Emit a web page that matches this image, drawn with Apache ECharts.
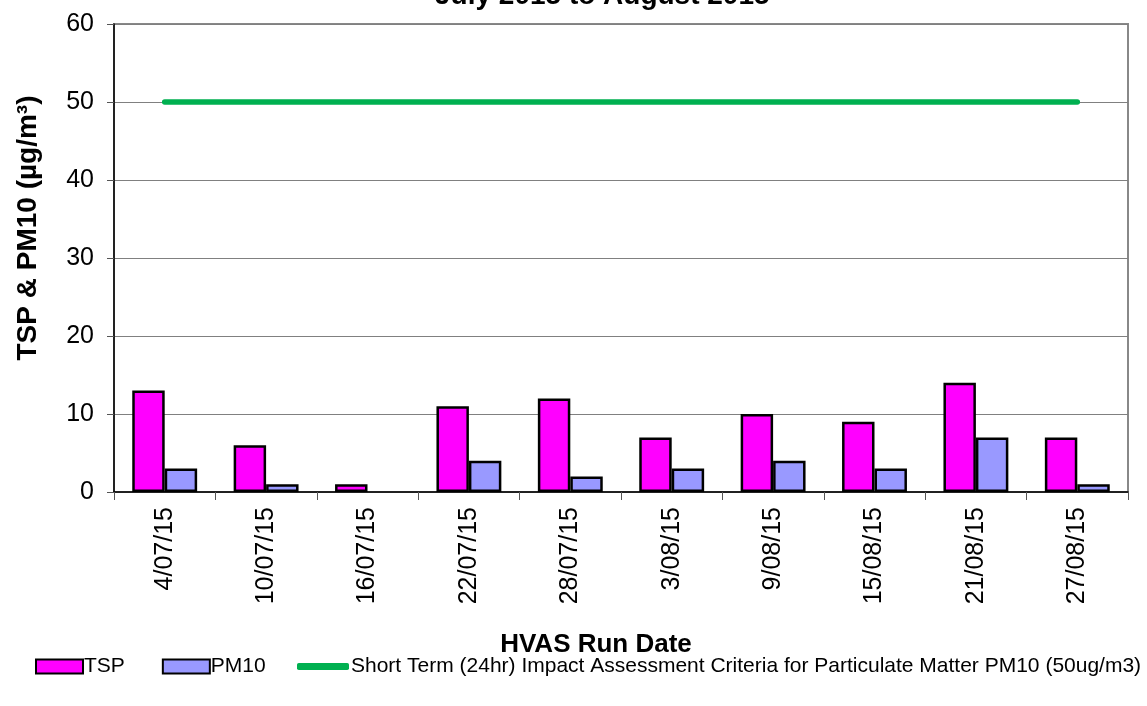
<!DOCTYPE html>
<html>
<head>
<meta charset="utf-8">
<script src="https://cdn.jsdelivr.net/npm/echarts@6/dist/echarts.min.js"></script>
<style>html,body{margin:0;padding:0;background:#fff;}#c{width:1147px;height:706px;}</style>
</head>
<body>
<div id="c"></div>
<script>
const categories = ['4/07/15','10/07/15','16/07/15','22/07/15','28/07/15','3/08/15','9/08/15','15/08/15','21/08/15','27/08/15'];
const tsp = [13, 6, 1, 11, 12, 7, 10, 9, 14, 7];
const pm10 = [3, 1, 0, 4, 2, 3, 4, 3, 7, 1];
const criteria = [50, 50, 50, 50, 50, 50, 50, 50, 50, 50];
const yTicks = [0, 10, 20, 30, 40, 50, 60];
const criteriaName = 'Short Term (24hr) Impact Assessment Criteria for Particulate Matter PM10 (50ug/m3)';

const chart = echarts.init(document.getElementById('c'), null, {renderer: 'canvas'});
const font = 'Liberation Sans, Arial, sans-serif';
const barData = arr => arr.map(v => v === 0 ? {value: v, itemStyle: {borderWidth: 0}} : v);
chart.setOption({
  animation: false,
  title: {
    text: 'July 2015 to August 2015',
    left: 430,
    top: -23,
    textStyle: {fontFamily: font, fontSize: 28, fontWeight: 'bold', color: '#000'}
  },
  grid: {
    left: 114, right: 19, top: 24, bottom: 214,
    show: true, borderColor: '#888', borderWidth: 2, backgroundColor: '#fff'
  },
  legend: [{
    top: 651, left: 30,
    itemWidth: 47, itemHeight: 14, itemGap: 37,
    textStyle: {fontFamily: font, fontSize: 21, color: '#000', padding: [0, 0, 0, -4]},
    data: [
      {name: 'TSP', icon: 'rect', itemStyle: {color: '#ff00ff', borderColor: '#000', borderWidth: 2}},
      {name: 'PM10', icon: 'rect', itemStyle: {color: '#9999ff', borderColor: '#000', borderWidth: 2}}
    ]
  }, {
    top: 651, left: 292,
    itemWidth: 52, itemHeight: 7,
    textStyle: {fontFamily: font, fontSize: 21, color: '#000', padding: [0, 0, 0, -3]},
    data: [{name: criteriaName, icon: 'roundRect', itemStyle: {color: '#00b050'}}]
  }],
  xAxis: {
    type: 'category',
    data: categories,
    name: 'HVAS Run Date',
    nameLocation: 'middle',
    nameGap: 140,
    nameTextStyle: {fontFamily: font, fontSize: 26, fontWeight: 'bold', color: '#000', padding: [0, 50, 0, 0]},
    axisLine: {lineStyle: {color: '#000', width: 1.5}},
    axisTick: {show: true, length: 8, lineStyle: {color: '#555'}},
    axisLabel: {rotate: 90, fontFamily: font, fontSize: 25, color: '#000', margin: 15},
    splitLine: {show: false}
  },
  yAxis: {
    type: 'value',
    min: 0, max: 60, interval: 10,
    name: 'TSP & PM10 (µg/m³)',
    nameLocation: 'middle',
    nameGap: 72,
    nameRotate: 90,
    nameTextStyle: {fontFamily: font, fontSize: 28, fontWeight: 'bold', color: '#000', padding: [0, 0, 0, 60]},
    axisLine: {show: true, lineStyle: {color: '#000', width: 1.5}},
    axisTick: {show: true, length: 7, lineStyle: {color: '#555'}},
    axisLabel: {fontFamily: font, fontSize: 25, color: '#000', margin: 20,
      formatter: v => yTicks.includes(v) ? String(v) : ''},
    splitLine: {show: true, lineStyle: {color: '#808080', width: 1}}
  },
  series: [
    {
      name: 'TSP', type: 'bar', data: barData(tsp),
      barGap: '0%', barCategoryGap: '36%',
      itemStyle: {color: '#ff00ff', borderColor: '#000', borderWidth: 2.5}
    },
    {
      name: 'PM10', type: 'bar', data: barData(pm10),
      itemStyle: {color: '#9999ff', borderColor: '#000', borderWidth: 2.5}
    },
    {
      name: criteriaName,
      type: 'line', data: criteria, showSymbol: false, symbol: 'none',
      lineStyle: {color: '#00b050', width: 5.5, cap: 'round'},
      itemStyle: {color: '#00b050'}
    }
  ]
});
</script>
</body>
</html>
